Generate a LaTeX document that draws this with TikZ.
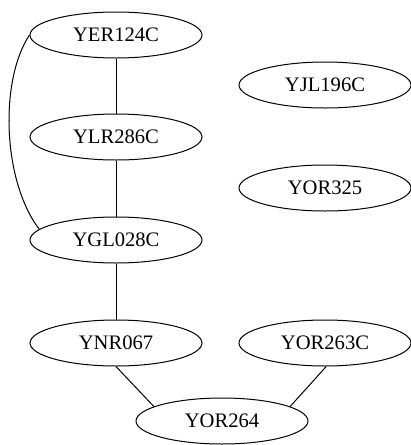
\documentclass[tikz,border=0pt]{standalone}
\usepackage{fontspec}
\setmainfont{Liberation Serif}
\usepackage{tikz}
\usetikzlibrary{shapes.geometric}
\def\genefont{\fontsize{20.6pt}{24pt}\selectfont}

\begin{document}
\begin{tikzpicture}[x=1pt,y=-1pt,line width=1pt]
    \tikzstyle{gene}=[ellipse,draw=black,minimum width=172pt,minimum height=46pt,inner sep=0pt,font=\genefont]
    \tikzstyle{link}=[draw=black]

    \useasboundingbox (0,0) rectangle (411,445);

    % Draw the gene nodes
    \foreach \name / \x / \y / \txt in {yer/116/35/YER124C, ylr/116/137/YLR286C,
        ygl/116/240/YGL028C, yjl/325/85/YJL196C, yor325/325/188/YOR325,
        ynr/116/343/YNR067, yor263/325/343/YOR263C, yor264/222/421/YOR264}
        \node[gene] (\name) at (\x,\y) {\txt};

    % Straight links down the left column
    \foreach \source / \dest in {yer/ylr, ylr/ygl, ygl/ynr}
        \path[link] (\source.south) -- (\dest.north);

    % Curved link round the left side
    \path[link] (yer.west) .. controls +(-30,45) and +(-37,-49) .. (ygl.172);

    % Links into YOR264
    \path[link] (ynr.south) -- (yor264.168);
    \path[link] (yor263.273) -- (yor264.12);
\end{tikzpicture}
\end{document}
